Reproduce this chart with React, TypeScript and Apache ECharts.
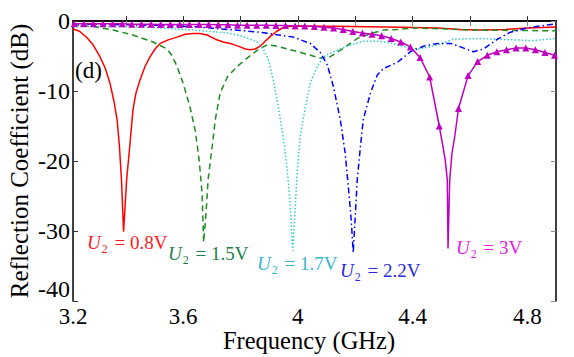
import React, { useEffect, useRef } from "react";
import * as echarts from "echarts";

// x range of the plot (GHz) and y range (dB)
const xMin = 3.216;
const xMax = 4.9;
const yMin = -40;
const yMax = 0;

const xTickValues = [3.4, 3.6, 3.8, 4.0, 4.2, 4.4, 4.6, 4.8];
const xLabelValues = [3.2, 3.6, 4.0, 4.4, 4.8];
const xLabelTexts = ["3.2", "3.6", "4", "4.4", "4.8"];
const yTickLabels = ["-40", "-30", "-20", "-10", "0"];

// U2 = 0.8 V (red, solid)
const red: [number, number][] = [
  [3.216, -1.1], [3.24, -1.5], [3.265, -2.4], [3.286, -3.4], [3.31, -5.1], [3.328, -6.7],
  [3.345, -8.9], [3.359, -11.5], [3.37, -14.2], [3.378, -18.0], [3.385, -22.7], [3.3923, -30.1],
  [3.403, -22.7], [3.415, -17.4], [3.425, -12.7], [3.436, -10.2], [3.45, -8.4], [3.467, -6.5],
  [3.485, -5.1], [3.502, -4.0], [3.52, -3.2], [3.548, -2.7], [3.579, -2.3], [3.607, -1.9],
  [3.635, -1.8], [3.659, -1.8], [3.684, -2.0], [3.712, -2.6], [3.74, -3.0], [3.771, -3.3],
  [3.799, -3.7], [3.816, -4.0], [3.834, -4.1], [3.851, -4.0], [3.869, -3.6], [3.886, -2.9],
  [3.904, -2.2], [3.925, -1.5], [3.946, -1.0], [3.963, -0.8], [4.008, -0.7], [4.183, -0.8],
  [4.357, -0.9], [4.487, -1.0], [4.567, -1.2], [4.637, -1.3], [4.724, -1.2], [4.801, -1.0],
  [4.9, -0.85],
];

// U2 = 1.5 V (green, dashed)
const green: [number, number][] = [
  [3.216, -0.6], [3.286, -0.8], [3.356, -1.3], [3.425, -2.0], [3.495, -3.0], [3.544, -4.0],
  [3.562, -5.0], [3.579, -6.5], [3.6, -8.9], [3.624, -12.3], [3.642, -15.6], [3.656, -19.9],
  [3.666, -24.6], [3.669, -28.4], [3.6715, -31.6], [3.68, -27.4], [3.687, -22.7], [3.701, -18.0],
  [3.712, -14.1], [3.729, -10.3], [3.754, -8.0], [3.788, -6.5], [3.823, -5.3], [3.858, -4.2],
  [3.893, -3.4], [3.928, -3.6], [3.973, -4.1], [4.019, -4.6], [4.078, -5.3], [4.113, -5.1],
  [4.158, -3.9], [4.207, -2.5], [4.253, -1.8], [4.298, -1.3], [4.347, -1.2], [4.403, -1.0],
  [4.497, -1.1], [4.602, -1.3], [4.9, -1.4],
];

// U2 = 1.7 V (cyan, dotted)
const cyan: [number, number][] = [
  [3.216, -0.7], [3.485, -0.9], [3.635, -1.3], [3.754, -1.7], [3.799, -2.1], [3.834, -2.6],
  [3.858, -3.0], [3.879, -4.0], [3.897, -5.5], [3.914, -8.4], [3.932, -12.3], [3.949, -16.6],
  [3.963, -21.3], [3.973, -26.0], [3.982, -32.8], [3.991, -26.6], [3.998, -21.3], [4.008, -16.6],
  [4.026, -12.3], [4.043, -8.9], [4.068, -6.5], [4.089, -5.1], [4.124, -4.4], [4.172, -3.6],
  [4.228, -2.9], [4.277, -2.9], [4.322, -3.1], [4.357, -3.6], [4.417, -4.0], [4.462, -3.7],
  [4.487, -3.4], [4.542, -2.6], [4.637, -2.5], [4.752, -2.7], [4.822, -2.8], [4.9, -2.5],
];

// U2 = 2.2 V (blue, dash-dot)
const blue: [number, number][] = [
  [3.216, -0.4], [3.485, -0.6], [3.635, -0.8], [3.754, -1.2], [3.869, -1.6], [3.984, -2.3],
  [4.043, -3.2], [4.078, -4.5], [4.103, -6.3], [4.124, -9.4], [4.148, -14.1], [4.165, -18.9],
  [4.176, -23.7], [4.186, -28.4], [4.193, -33.1], [4.2, -28.0], [4.207, -22.7], [4.218, -18.0],
  [4.228, -14.1], [4.253, -10.3], [4.277, -7.7], [4.298, -6.8], [4.347, -5.9], [4.392, -4.4],
  [4.438, -3.6], [4.487, -3.2], [4.532, -3.2], [4.567, -3.7], [4.612, -4.4], [4.647, -4.0],
  [4.696, -2.6], [4.741, -1.6], [4.801, -1.0], [4.846, -0.7], [4.9, -0.4],
];

// U2 = 3 V (magenta, triangles) - marked samples
const magentaMarked: [number, number][] = [
  [3.22, -0.4], [3.2535, -0.4], [3.287, -0.4], [3.3205, -0.4], [3.354, -0.4], [3.3875, -0.4],
  [3.421, -0.45], [3.4545, -0.45], [3.488, -0.45], [3.5215, -0.5], [3.555, -0.5], [3.5885, -0.5],
  [3.622, -0.5], [3.6555, -0.5], [3.689, -0.5], [3.7225, -0.55], [3.756, -0.55], [3.7895, -0.6],
  [3.823, -0.6], [3.8565, -0.6], [3.89, -0.6], [3.9235, -0.65], [3.957, -0.65], [3.9905, -0.7],
  [4.024, -0.7], [4.0575, -0.8], [4.091, -0.9], [4.1245, -1.0], [4.158, -1.2], [4.1915, -1.5],
  [4.225, -1.7], [4.2585, -1.9], [4.292, -2.1], [4.3255, -2.5], [4.359, -3.0], [4.3925, -3.7],
  [4.426, -5.2], [4.4595, -8.0], [4.493, -15.0], [4.56, -12.5], [4.5935, -7.8], [4.627, -5.8],
  [4.6605, -4.9], [4.694, -4.4], [4.7275, -4.1], [4.761, -3.85], [4.7945, -3.85], [4.828, -4.1],
  [4.8615, -4.5], [4.895, -4.9],
];
// magenta resonance points without markers
const magentaDip: [number, number][] = [
  [4.507, -18.2], [4.514, -19.9], [4.521, -22.7], [4.5235, -32.5], [4.5295, -22.7],
  [4.537, -19.0], [4.547, -16.5],
];

const labels = [
  { v: "0.8V", color: "#ff1a1a", x: 87, y: 242 },
  { v: "1.5V", color: "#1f7f4f", x: 168, y: 253 },
  { v: "1.7V", color: "#33b8cc", x: 257, y: 263 },
  { v: "2.2V", color: "#2a2ae0", x: 340, y: 270 },
  { v: "3V", color: "#e61ae6", x: 456, y: 247 },
];

const FONT = "'Liberation Serif', 'Times New Roman', serif";

export default function App() {
  const ref = useRef<HTMLDivElement>(null);
  useEffect(() => {
    document.body.style.margin = "0";
    if (!ref.current) return;
    const chart = echarts.init(ref.current, undefined, { renderer: "svg" });

    const magentaData = [
      ...magentaMarked.map((p) => ({ value: p })),
      ...magentaDip.map((p) => ({ value: p, symbol: "none" })),
    ].sort((a, b) => a.value[0] - b.value[0]);

    const labelPos = xLabelValues.map((v) => (v < xMin ? xMin : v));

    const lineSeries = (data: any[], color: string, type: any, z: number) => ({
      type: "line",
      data,
      showSymbol: false,
      symbol: "none",
      lineStyle: { color, width: 1.5, type },
      z,
    });

    const option: any = {
      animation: false,
      grid: { left: 73, right: 18, top: 21, bottom: 56, outerBoundsMode: "none", containLabel: false },
      xAxis: [
        {
          type: "value",
          min: xMin,
          max: xMax,
          position: "bottom",
          axisLine: { show: true, lineStyle: { color: "#000", width: 1.5 } },
          axisTick: {
            show: true,
            inside: true,
            length: 5,
            customValues: xTickValues,
            lineStyle: { color: "#333" },
          },
          axisLabel: {
            customValues: labelPos,
            formatter: (v: number) => {
              const i = labelPos.findIndex((p) => Math.abs(p - v) < 1e-6);
              return i >= 0 ? xLabelTexts[i] : "";
            },
            fontFamily: FONT,
            fontSize: 23,
            color: "#000",
            margin: 4,
          },
          splitLine: { show: false },
          name: "Frequency (GHz)",
          nameLocation: "middle",
          nameGap: 27,
          nameMoveOverlap: false,
          nameTextStyle: { fontFamily: FONT, fontSize: 24.5, color: "#000", padding: [0, 11, 0, 0] },
        },
        {
          type: "value",
          min: xMin,
          max: xMax,
          position: "top",
          axisLine: { show: true, lineStyle: { color: "#000", width: 1.5 } },
          axisTick: {
            show: true,
            inside: true,
            length: 5,
            customValues: xTickValues,
            lineStyle: { color: "#888" },
          },
          axisLabel: { show: false },
          splitLine: { show: false },
        },
      ],
      yAxis: [
        {
          type: "value",
          min: yMin,
          max: yMax,
          interval: 10,
          position: "left",
          axisLine: { show: true, lineStyle: { color: "#000", width: 1.5 } },
          axisTick: { show: true, inside: true, length: 5, lineStyle: { color: "#333" } },
          axisLabel: {
            formatter: (v: number) => yTickLabels[Math.round((v - yMin) / 10)] ?? "",
            fontFamily: FONT,
            fontSize: 24,
            color: "#000",
            margin: 3,
            verticalAlignMinLabel: "bottom",
          },
          splitLine: { show: false },
          name: "Reflection Coefficient (dB)",
          nameLocation: "middle",
          nameGap: 41,
          nameMoveOverlap: false,
          nameTextStyle: { fontFamily: FONT, fontSize: 25, color: "#000" },
        },
        {
          type: "value",
          min: yMin,
          max: yMax,
          interval: 10,
          position: "right",
          axisLine: { show: true, lineStyle: { color: "#000", width: 1.5 } },
          axisTick: { show: true, inside: true, length: 5, lineStyle: { color: "#888" } },
          axisLabel: { show: false },
          splitLine: { show: false },
        },
      ],
      series: [
        lineSeries(red, "#ff0000", "solid", 2),
        lineSeries(green, "#1e8c1e", [6, 4], 3),
        lineSeries(cyan, "#33cccc", [1.5, 2], 4),
        lineSeries(blue, "#0000ff", [6, 3, 1.5, 3], 5),
        {
          type: "line",
          data: magentaData,
          symbol: "triangle",
          symbolSize: 7,
          showSymbol: true,
          itemStyle: { color: "#c000c0" },
          lineStyle: { color: "#c000c0", width: 1.5 },
          z: 6,
        },
      ],
      graphic: [
        {
          type: "text",
          left: 75,
          top: 59,
          style: { text: "(d)", font: `23px ${FONT}`, fill: "#000" },
          z: 10,
        },
        ...labels.map((l) => ({
          type: "text",
          x: l.x,
          y: l.y,
          z: 10,
          style: {
            text: `{u|U}{s|2}{n| = ${l.v}}`,
            fill: l.color,
            verticalAlign: "middle",
            rich: {
              u: { fontFamily: FONT, fontStyle: "italic", fontSize: 19, fill: l.color },
              s: { fontFamily: FONT, fontSize: 12, padding: [14, 2, 0, 1], fill: l.color },
              n: { fontFamily: FONT, fontSize: 19, fill: l.color },
            },
          },
        })),
      ],
    };
    chart.setOption(option);
    return () => chart.dispose();
  }, []);
  return <div ref={ref} style={{ width: 574, height: 357 }} />;
}
